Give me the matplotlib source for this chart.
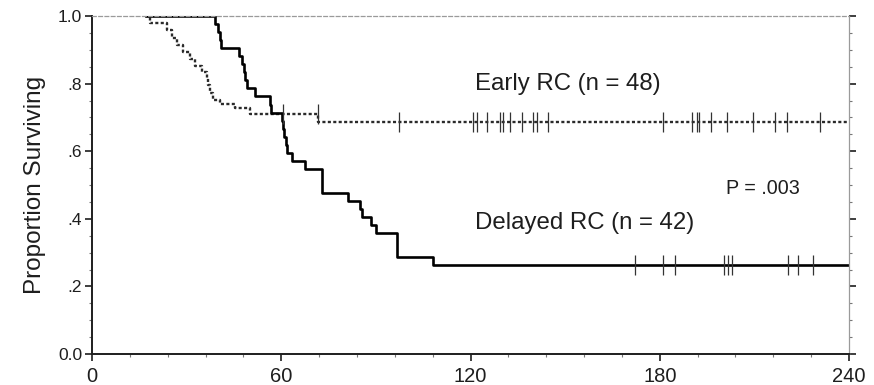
import matplotlib
matplotlib.use('Agg')
import matplotlib.pyplot as plt
from matplotlib.ticker import MultipleLocator, FixedLocator
import numpy as np

# Kaplan-Meier steps (months, proportion surviving)
early_t = [17, 18.4, 23.7, 25.3, 26.8, 28.9, 31.0, 32.6, 34.8, 36.4, 36.9, 37.4,
           38.4, 40.6, 45.3, 50.0, 71.8, 240]
early_s = [1.0, 0.979, 0.958, 0.936, 0.913, 0.894, 0.872, 0.852, 0.835, 0.818, 0.796,
           0.772, 0.752, 0.740, 0.727, 0.710, 0.685, 0.685]
early_cens = [60.6, 71.7, 97.4, 120.7, 121.9, 125.1, 129.3, 130.4, 132.5, 136.2,
              139.9, 141.0, 144.6, 180.9, 190.1, 191.7, 192.5, 196.4, 201.4, 209.6,
              216.5, 220.2, 230.7]

delayed_t = [17, 38.9, 40.0, 40.5, 41.0, 46.5, 47.5, 48.2, 48.6, 49.0, 51.6, 56.4,
             56.9, 60.1, 60.5, 61.0, 61.4, 61.7, 63.3, 67.5, 72.8, 81.3, 85.0, 85.5,
             88.4, 90.0, 96.6, 108.2, 240]
delayed_s = [1.0, 0.976, 0.952, 0.929, 0.905, 0.881, 0.857, 0.833, 0.810, 0.786,
             0.762, 0.738, 0.714, 0.690, 0.667, 0.643, 0.619, 0.595, 0.571, 0.548,
             0.476, 0.452, 0.429, 0.405, 0.381, 0.357, 0.286, 0.262, 0.262]
delayed_cens = [172.1, 181.1, 184.8, 200.3, 201.7, 202.8, 220.7, 223.9, 228.6]

x_ticks = [0, 60, 120, 180, 240]
y_ticks = [0.0, 0.2, 0.4, 0.6, 0.8, 1.0]
y_ticklabels = ['0.0', '.2', '.4', '.6', '.8', '1.0']


def level_at(times, surv, t):
    i = np.searchsorted(times, t, side='right') - 1
    return np.asarray(surv)[i]


plt.rcParams['font.family'] = ['Liberation Sans', 'DejaVu Sans']
ink = '#1e1e1e'

fig = plt.figure(figsize=(8.74, 3.85), dpi=100)
ax = fig.add_axes([0.1053, 0.0805, 0.8661, 0.8779])

ax.step(early_t, early_s, where='post', color='#2a2a2a', lw=1.7,
        linestyle=(0, (1.3, 1.0)))
ax.step(delayed_t, delayed_s, where='post', color='black', lw=1.9)

ax.plot(early_cens, level_at(early_t, early_s, early_cens), ls='none',
        marker='|', ms=14, mew=0.9, color='#333333')
ax.plot(delayed_cens, level_at(delayed_t, delayed_s, delayed_cens), ls='none',
        marker='|', ms=14, mew=0.9, color='#333333')

ax.set_xlim(0, 240)
ax.set_ylim(0, 1.0)
ax.xaxis.set_major_locator(FixedLocator(x_ticks))
ax.xaxis.set_minor_locator(MultipleLocator(12))
ax.yaxis.set_major_locator(FixedLocator(y_ticks))
ax.yaxis.set_minor_locator(MultipleLocator(0.05))
ax.set_yticklabels(y_ticklabels)

ax.tick_params(axis='x', which='major', labelsize=14.5, length=5, width=1.2,
               colors=ink, pad=4)
ax.tick_params(axis='y', which='major', labelsize=12.5, length=5, width=1.2,
               colors=ink, pad=2)
ax.tick_params(which='minor', length=2.5, width=0.8, colors='#777777')
ax.tick_params(right=True, which='both')

for side in ['left', 'bottom']:
    ax.spines[side].set_linewidth(1.4)
    ax.spines[side].set_color(ink)
for side in ['top', 'right']:
    ax.spines[side].set_linewidth(0.9)
    ax.spines[side].set_color('#9a9a9a')
ax.spines['top'].set_linestyle((0, (3, 2)))

ax.set_ylabel('Proportion Surviving', fontsize=17.5, color=ink, labelpad=9)

ax.text(121.4, 0.80, 'Early RC (n = 48)', fontsize=17.3, color=ink, va='center')
ax.text(121.4, 0.387, 'Delayed RC (n = 42)', fontsize=17.3, color=ink, va='center')
ax.text(201.1, 0.49, 'P = .003', fontsize=14.2, color=ink, va='center')

fig.savefig('out.png', dpi=100)
